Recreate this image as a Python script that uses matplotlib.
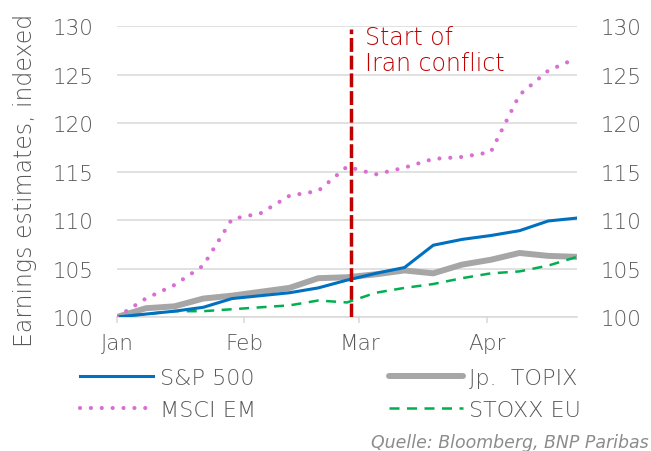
import matplotlib
matplotlib.use("Agg")
import matplotlib.pyplot as plt
import pandas as pd

plt.rcParams["font.family"] = ["DejaVu Sans"]
plt.rcParams["font.weight"] = "light"

# weekly observations, Jan 1 -> Apr 23
dates = ["2026-01-01", "2026-01-08", "2026-01-15", "2026-01-22", "2026-01-29",
         "2026-02-05", "2026-02-12", "2026-02-19", "2026-02-26", "2026-03-05",
         "2026-03-12", "2026-03-19", "2026-03-26", "2026-04-02", "2026-04-09",
         "2026-04-16", "2026-04-23"]
sp500 = [100.0, 100.3, 100.6, 101.0, 101.9, 102.2, 102.5, 103.0, 103.8, 104.5,
         105.1, 107.4, 108.0, 108.4, 108.9, 109.9, 110.2]
topix = [100.0, 100.9, 101.1, 101.9, 102.2, 102.6, 103.0, 104.0, 104.1, 104.4,
         104.8, 104.5, 105.4, 105.9, 106.6, 106.3, 106.2]
msci_em = [100.0, 101.9, 103.3, 105.3, 110.1, 110.7, 112.5, 113.0, 115.5, 114.7,
           115.4, 116.3, 116.5, 117.0, 122.9, 125.4, 126.7]
stoxx = [100.0, 100.3, 100.6, 100.6, 100.8, 101.0, 101.2, 101.7, 101.5, 102.5,
         103.0, 103.4, 104.0, 104.5, 104.7, 105.3, 106.2]
conflict_date = "2026-02-27"
month_ticks = ["2026-01-01", "2026-02-01", "2026-03-01", "2026-04-01"]
month_labels = ["Jan", "Feb", "Mar", "Apr"]

x = pd.to_datetime(dates)
grey_txt = "#595959"
grid_c = "#D9D9D9"

fig = plt.figure(figsize=(6.51, 4.52), dpi=100)
ax = fig.add_axes([117/651, 1-318/452, 460/651, 291/452])

ax.plot(x, topix, color="#A6A6A6", lw=4.3, solid_capstyle="round", solid_joinstyle="round",
        label="Jp.  TOPIX", zorder=3)
ax.plot(x, stoxx, color="#00B050", lw=1.8, linestyle=(0, (4, 3)), label="STOXX EU", zorder=4)
ax.plot(x, sp500, color="#0070C0", lw=2.2, label="S&P 500", zorder=5)
ax.plot(x, msci_em, color="#D96FD2", lw=3.0, linestyle=(0, (0.01, 2.6)),
        dash_capstyle="round", label="MSCI EM", zorder=6)

cd = pd.Timestamp(conflict_date)
ax.vlines(cd, 100, 129.7, color="#C00000", lw=2.5, linestyle=(0, (4, 1.1)), zorder=7)
ax.annotate("Start of\nIran conflict", xy=(cd, 1), xycoords=("data", "axes fraction"),
            xytext=(10, 1), textcoords="offset points", va="top", ha="left",
            color="#C00000", fontsize=17, linespacing=1.15)

ax.set_xlim(x[0], x[-1])
ax.set_ylim(100, 130)
ax.set_yticks(range(100, 131, 5))
ax.set_xticks(pd.to_datetime(month_ticks))
ax.set_xticklabels(month_labels)

ax.grid(axis="y", color=grid_c, lw=1.1)
ax.set_axisbelow(True)
for s in ["top", "left", "right"]:
    ax.spines[s].set_visible(False)
ax.spines["bottom"].set_color(grid_c)
ax.spines["bottom"].set_linewidth(1.1)

ax.tick_params(axis="y", length=0, pad=17, labelsize=15.5, labelcolor=grey_txt,
               labelright=True)
ax.tick_params(axis="x", length=4.5, width=1.1, color=grid_c, pad=7, labelsize=15.5,
               labelcolor=grey_txt)

fig.text(25/651, 1-180/452, "Earnings estimates, indexed", rotation=90, ha="center",
         va="center", fontsize=17, color=grey_txt)

h, l = ax.get_legend_handles_labels()
order = [2, 3, 0, 1]
fig.legend([h[i] for i in order], [l[i] for i in order], ncol=2, frameon=False,
           loc="upper left", bbox_to_anchor=(80/651, 1-369/452), borderpad=0,
           borderaxespad=0, fontsize=16, handlelength=3.3, handletextpad=0.3,
           columnspacing=6.0, labelspacing=0.55, labelcolor=grey_txt)

fig.text(649/651, 1-443/452, "Quelle: Bloomberg, BNP Paribas", ha="right", va="center",
         style="italic", fontweight="normal", fontsize=12.5, color="#8C8C8C")

fig.savefig("out.png", dpi=100)
